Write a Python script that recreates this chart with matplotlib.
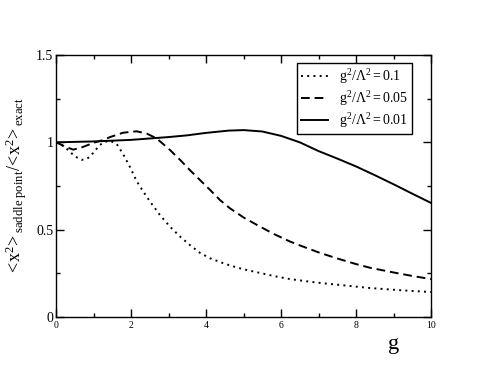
import numpy as np
import matplotlib
matplotlib.use("Agg")
import matplotlib.pyplot as plt
from matplotlib.ticker import MultipleLocator

plt.rcParams['font.family'] = 'Liberation Serif'
plt.rcParams['mathtext.fontset'] = 'custom'
plt.rcParams['mathtext.rm'] = 'Liberation Serif'
plt.rcParams['mathtext.it'] = 'Liberation Serif:italic'

# g^2/Lambda^2 = 0.1 (dotted)
g_01 = [0, 0.15, 0.3, 0.5, 0.68, 0.8, 0.91, 1.03, 1.17, 1.3, 1.45, 1.62, 1.79,
        1.97, 2.15, 2.33, 2.51, 2.77, 3.04, 3.31, 3.57, 3.84, 4.11, 4.37, 4.64,
        5.0, 5.36, 5.8, 6.24, 6.7, 7.04, 7.5, 8.0, 8.37, 9.0, 9.5, 10.0]
r_01 = [1.0, 0.985, 0.96, 0.92, 0.90, 0.903, 0.918, 0.95, 0.985, 1.003, 1.008,
        0.99, 0.932, 0.86, 0.778, 0.717, 0.66, 0.584, 0.517, 0.46, 0.412,
        0.367, 0.336, 0.315, 0.295, 0.273, 0.256, 0.235, 0.217, 0.204, 0.195,
        0.185, 0.174, 0.166, 0.156, 0.149, 0.143]

# g^2/Lambda^2 = 0.05 (dashed)
g_005 = [0, 0.25, 0.46, 0.7, 1.0, 1.26, 1.44, 1.79, 2.15, 2.42, 2.68, 3.04,
         3.31, 3.57, 3.84, 4.11, 4.37, 4.64, 5.0, 5.36, 5.8, 6.24, 6.5, 7.0,
         7.5, 8.0, 8.37, 9.0, 9.5, 10.0]
r_005 = [1.0, 0.975, 0.958, 0.972, 0.997, 1.013, 1.03, 1.055, 1.063, 1.05,
         1.023, 0.956, 0.899, 0.841, 0.784, 0.727, 0.67, 0.622, 0.57, 0.527,
         0.476, 0.432, 0.41, 0.37, 0.335, 0.303, 0.282, 0.255, 0.235, 0.217]

# g^2/Lambda^2 = 0.01 (solid)
g_001 = [0, 1.0, 2.0, 3.0, 3.5, 4.0, 4.6, 5.0, 5.5, 6.0, 6.5, 7.0, 7.5, 8.0,
         8.5, 9.0, 9.5, 10.0]
r_001 = [1.0, 1.005, 1.014, 1.03, 1.04, 1.054, 1.067, 1.07, 1.062, 1.037,
         1.0, 0.95, 0.907, 0.862, 0.812, 0.76, 0.706, 0.653]

fig = plt.figure(figsize=(4.85, 3.74), dpi=100)
ax = fig.add_axes([0.1155, 0.1524, 0.7732, 0.7006])

ax.plot(g_01, r_01, color='black', lw=1.4, linestyle=(0, (1, 2.2)),
        label=r'$\mathrm{g}^2/\Lambda^2 = 0.1$')
ax.plot(g_005, r_005, color='black', lw=1.4, linestyle=(0, (4.5, 2.5)),
        label=r'$\mathrm{g}^2/\Lambda^2 = 0.05$')
ax.plot(g_001, r_001, color='black', lw=1.4, linestyle='-',
        label=r'$\mathrm{g}^2/\Lambda^2 = 0.01$')

ax.set_xlim(0, 10)
ax.set_ylim(0, 1.5)
ax.xaxis.set_minor_locator(MultipleLocator(1))
ax.yaxis.set_minor_locator(MultipleLocator(0.25))
ax.set_xticks([0, 2, 4, 6, 8, 10])
ax.set_xticklabels(['0', '2', '4', '6', '8', '10'])
ax.set_yticks([0, 0.5, 1, 1.5])
ax.set_yticklabels(['0', '0.5', '1', '1.5'])
ax.tick_params(which='both', direction='in', top=True, right=True, width=1)
ax.tick_params(which='major', length=6)
ax.tick_params(which='minor', length=3)
ax.tick_params(axis='x', labelsize=7, pad=3)
ax.tick_params(axis='y', labelsize=10, pad=2)
for s in ax.spines.values():
    s.set_linewidth(1.0)

ax.set_xlabel('g', fontsize=16)
ax.xaxis.set_label_coords(0.9, -0.07)
ax.set_ylabel(r'${<}\!\mathrm{x}^2\!{>}_{\mathrm{saddle\ point}}/\!{<}\!\mathrm{x}^2\!{>}_{\mathrm{exact}}$',
              fontsize=13, labelpad=5)

leg = ax.legend(loc='upper right', bbox_to_anchor=(0.949, 0.969), fontsize=10,
                fancybox=False, edgecolor='black', framealpha=1,
                handlelength=1.9, borderpad=0.3, labelspacing=0.2,
                handletextpad=0.8, borderaxespad=0)
leg.get_frame().set_linewidth(1.0)

fig.savefig('out.png', dpi=100)
